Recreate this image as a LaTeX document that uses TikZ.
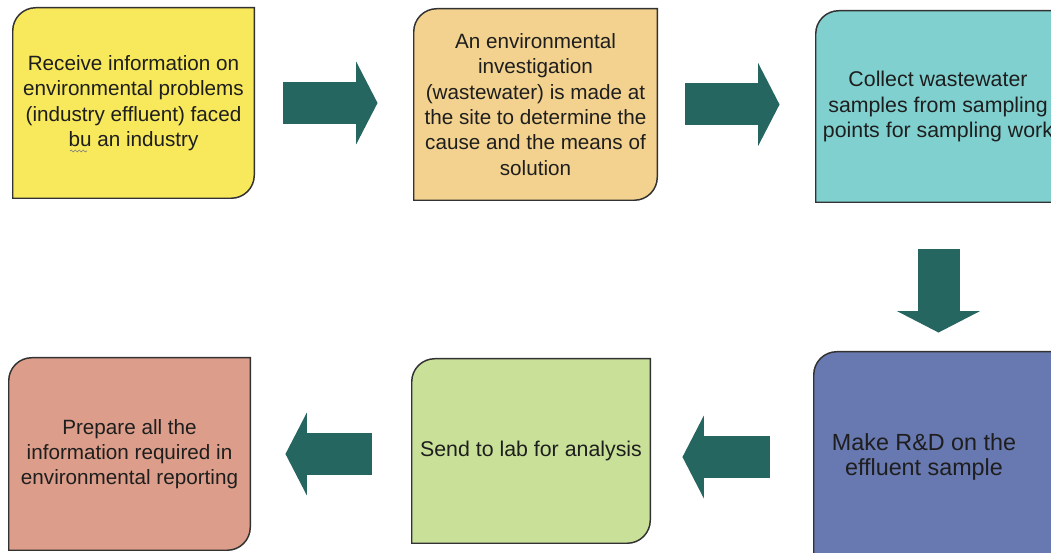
\documentclass[tikz,border=0pt]{standalone}
\usepackage{fontspec}
\setmainfont{Liberation Sans}
\usetikzlibrary{arrows.meta,calc,backgrounds,decorations.pathmorphing}
\definecolor{cYellow}{RGB}{247,232,92}
\definecolor{cTan}{RGB}{242,210,142}
\definecolor{cCyan}{RGB}{128,208,208}
\definecolor{cBlue}{RGB}{104,120,176}
\definecolor{cGreen}{RGB}{200,224,152}
\definecolor{cSalmon}{RGB}{220,158,138}
\definecolor{cArrow}{RGB}{38,102,96}
\definecolor{cEdge}{RGB}{50,50,50}
\definecolor{cText}{RGB}{30,30,30}
\newcommand\cardshape[4]{%
  \begin{scope}[on background layer]
    \draw[cardline, fill=#2]
      ($(#1.north west)+(0,-23)$) arc[start angle=180,end angle=90,radius=17.25pt]
      -- ($(#1.north east)+(#3,0)$)
      -- ($(#1.south east)+(#3,-#4+23)$) arc[start angle=0,end angle=-90,radius=17.25pt]
      -- ($(#1.south west)+(0,-#4)$) -- cycle;
  \end{scope}}
\begin{document}
\begin{tikzpicture}[x=0.75pt,y=0.75pt,
  boxtext/.style 2 args={minimum width=#1*0.75pt, minimum height=#2*0.75pt,
    inner sep=0pt, align=center, text=cText,
    font=\fontsize{15.5}{19}\selectfont},
  fs/.style={font=\fontsize{#1}{19}\selectfont},
  cardline/.style={draw=cEdge, line width=1.1pt},
  flowarrow/.style={draw=cArrow, line width=31.5pt,
    -{Triangle[length=16pt,width=62pt,line width=0pt,sep=-0.6pt]}}]
\useasboundingbox (0,0) rectangle (1051,553);
\clip (0,0) rectangle (1051,553);

\node[boxtext={241}{190}] (b1) at (133.5,450)
  {Receive information on\\environmental problems\\(industry effluent) faced\\bu an industry};
\node[boxtext={243}{191}] (b2) at (535.5,448.5)
  {An environmental\\investigation\\(wastewater) is made at\\the site to determine the\\cause and the means of\\solution};
\node[boxtext={244}{191}, fs=16] (b3) at (938,446.5)
  {Collect wastewater\\samples from sampling\\points for sampling work};
\node[boxtext={220}{210}, fs=17.5] (b4) at (924,96)
  {Make R\&D on the\\effluent sample};
\node[boxtext={238}{184}, fs=16] (b5) at (531,102)
  {Send to lab for analysis};
\node[boxtext={241}{192}] (b6) at (129.5,99)
  {Prepare all the\\information required in\\environmental reporting};

\cardshape{b1}{cYellow}{0}{0}
\cardshape{b2}{cTan}{0}{0}
\cardshape{b3}{cCyan}{40}{0}
\cardshape{b4}{cBlue}{40}{20}
\cardshape{b5}{cGreen}{0}{0}
\cardshape{b6}{cSalmon}{0}{0}

\draw[gray, line width=0.5pt, decorate,
  decoration={snake, amplitude=0.7pt, segment length=3pt}] (70,402) -- (87,402);

\draw[flowarrow, shorten <=21.75pt, shorten >=27.75pt] (b1.east) -- (b1.east -| b2.west);
\draw[flowarrow, shorten <=21pt, shorten >=27.75pt] (b2.east) -- (b2.east -| b3.west);
\coordinate (a3) at ($(b3.south)+(0.5,0)$);
\draw[flowarrow, shorten <=35.25pt, shorten >=15pt] (a3) -- (a3 |- b4.north);
\draw[flowarrow, shorten <=33pt, shorten >=24.75pt] (b4.west) -- (b4.west -| b5.east);
\draw[flowarrow, shorten <=30pt, shorten >=27pt] (b5.west |- b6.east) -- (b6.east);
\end{tikzpicture}
\end{document}
